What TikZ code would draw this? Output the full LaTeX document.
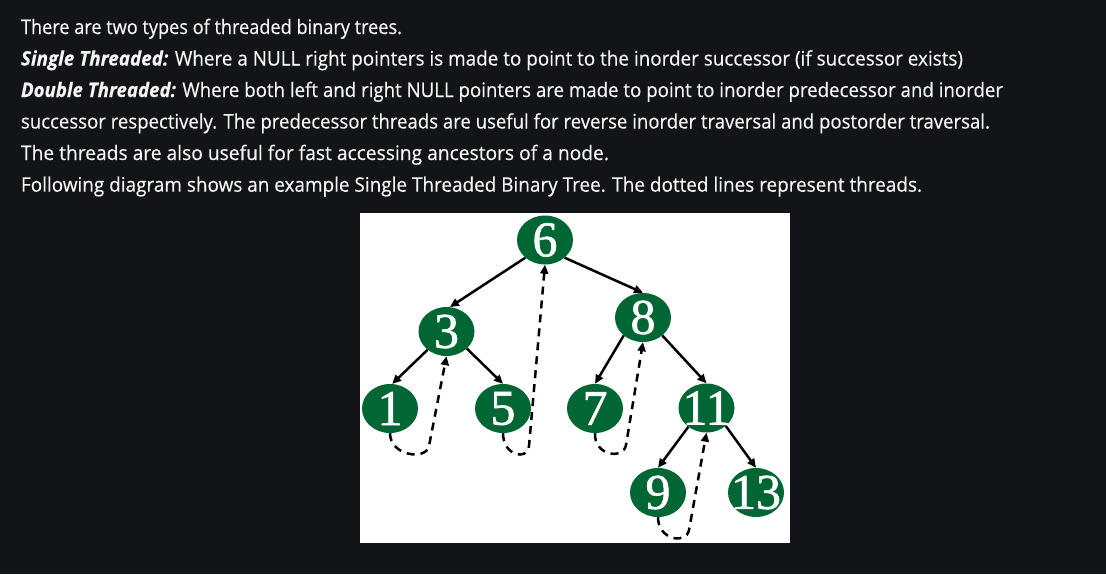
\documentclass[tikz,border=0pt]{standalone}
\usepackage{fontspec}
\setmainfont{Open Sans}[FakeBold=0.35]
\newfontfamily\nodefont{Liberation Serif}[FakeBold=1.2]
\usetikzlibrary{shapes.geometric,arrows.meta}
\definecolor{bg}{RGB}{19,20,23}
\definecolor{fg}{RGB}{245,245,245}
\definecolor{tgreen}{RGB}{0,102,51}
\newsavebox\linebox
\newcommand\fitline[2]{\sbox\linebox{#2}\pgfmathsetmacro\lsx{#1/\the\wd\linebox}\scalebox{\lsx}[1]{\usebox\linebox}}
\begin{document}
\begin{tikzpicture}[x=1pt,y=-1pt,
  txt/.style={anchor=base west, inner sep=0pt, outer sep=0pt, text=fg, font=\fontsize{20}{24}\selectfont},
  tnode/.style={ellipse, fill=tgreen, minimum width=56pt, minimum height=49pt, inner sep=0pt, text=white, font=\nodefont\fontsize{50}{50}\selectfont},
  edge/.style={line width=2.5pt, -{Triangle[length=9pt,width=8pt]}},
  thread/.style={line width=2.5pt, dash pattern=on 8pt off 6pt, -{Triangle[length=9pt,width=8pt]}}]
\fill[bg] (0,0) rectangle (1106,574);
\fill[white] (360,213) rectangle (790,543);
% text
\node[txt] (l1) at (21,34) {\fitline{381}{There are two types of threaded binary trees.}};
\node[txt] (l2) at (21,65.5) {\fitline{942}{\textbf{\textit{Single Threaded:}} Where a NULL right pointers is made to point to the inorder successor (if successor exists)}};
\node[txt] (l3) at (21,97) {\fitline{982}{\textbf{\textit{Double Threaded:}} Where both left and right NULL pointers are made to point to inorder predecessor and inorder}};
\node[txt] (l4) at (21,128.5) {\fitline{969}{successor respectively. The predecessor threads are useful for reverse inorder traversal and postorder traversal.}};
\node[txt] (l5) at (21,160) {\fitline{588}{The threads are also useful for fast accessing ancestors of a node.}};
\node[txt] (l6) at (21,191.7) {\fitline{901}{Following diagram shows an example Single Threaded Binary Tree. The dotted lines represent threads.}};
% tree nodes
\node[tnode] (n6) at (545,240) {\makebox[0pt]{6}};
\node[tnode] (n3) at (446.5,331.5) {\makebox[0pt]{3}};
\node[tnode] (n8) at (643,317.5) {\makebox[0pt]{8}};
\node[tnode] (n1) at (390,408.5) {\makebox[0pt]{1}};
\node[tnode] (n5) at (503,408.5) {\makebox[0pt]{5}};
\node[tnode] (n7) at (595,408.5) {\makebox[0pt]{7}};
\node[tnode] (n11) at (706.5,408) {\makebox[0pt]{11}};
\node[tnode] (n9) at (658,492.5) {\makebox[0pt]{9}};
\node[tnode] (n13) at (756,492.5) {\makebox[0pt]{13}};
% edges
\draw[edge] (n6.222) -- (n3.82);
\draw[edge] (n6.318) -- (n8.north);
\draw[edge] (n3.224) -- (n1.85);
\draw[edge] (n3.320) -- (n5.north);
\draw[edge] (n8.223) -- (n7.north);
\draw[edge] (n8.317) -- (n11.north);
\draw[edge] (n11.226) -- (n9.north);
\draw[edge] (n11.317) -- (n13.north);
% threads
\draw[thread] (n1.south) .. controls (390,456) and (426.2,460.7) .. (429,446) -- (n3.south);
\draw[thread] (n5.south) .. controls (503,456) and (527.7,461) .. (529,446) -- (n6.south);
\draw[thread] (n7.south) .. controls (594,456) and (623.5,459.8) .. (626,445) -- (n8.south);
\draw[thread] (n9.south) .. controls (658,540) and (686.3,544.8) .. (689,530) -- (n11.south);
\end{tikzpicture}
\end{document}
